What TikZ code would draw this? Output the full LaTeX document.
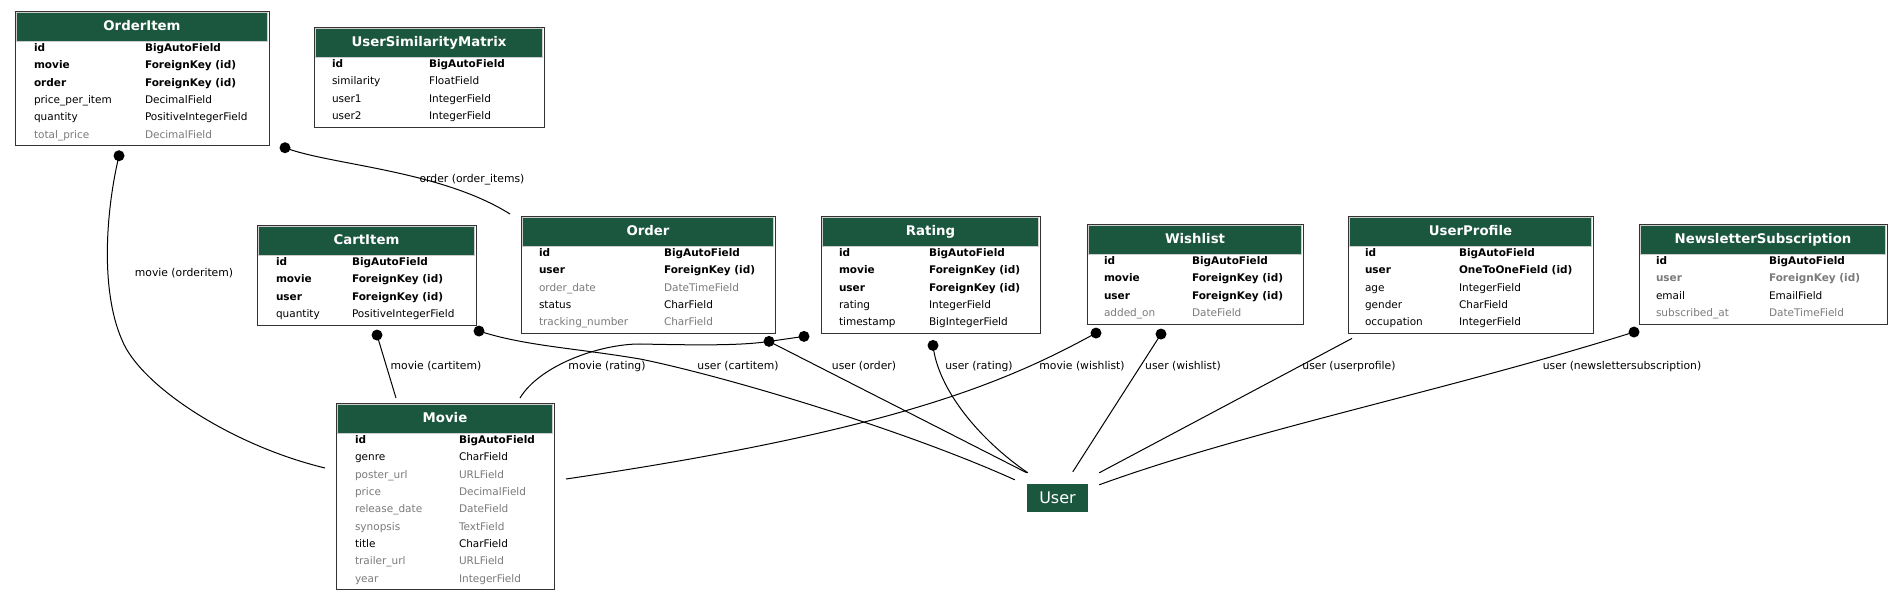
\documentclass[tikz,border=0pt]{standalone}
\usepackage{fontspec}
\setmainfont{DejaVu Sans}
\usetikzlibrary{calc}
\definecolor{hdrgreen}{HTML}{1B563F}
\definecolor{fgray}{HTML}{7B7B7B}
\newcommand\erfb{\bfseries}
\newcommand\erfn{}
\tikzset{
  tbox/.style={draw=black!80, line width=0.9pt, fill=white, inner sep=0pt, outer sep=0pt},
  hdr/.style={fill=hdrgreen, draw=black!20, line width=0.5pt, text=white, font=\fontsize{13.3}{15}\selectfont\bfseries, inner sep=0pt, outer sep=0pt, text height=9.5pt, text depth=2.5pt},
  fld/.style={font=\fontsize{10.5}{12}\selectfont, inner sep=0pt, outer sep=0pt},
  elabel/.style={font=\fontsize{10.8}{12}\selectfont, inner sep=0pt, anchor=base},
  edge/.style={draw=black, line width=1pt},
  userbox/.style={fill=hdrgreen, text=white, font=\fontsize{16}{18}\selectfont, minimum width=61pt, minimum height=28pt, inner sep=0pt},
}
\newcommand\ertable[9]{%
  \node[tbox, minimum width=#4, minimum height={48+(#8-1)*17.35}, anchor=north west] (#1) at (#2,#3) {};
  \node[hdr, minimum width={#4-3}, minimum height=28.5, anchor=north] (#1-h) at ($(#1.north)+(0,1.5)$) {#5};
  \foreach \xc/\xw/\xl/\xr [count=\xi] in {#9} {
    \node[fld, text=\xc, anchor=base west] (#1-a\xi) at ($(#1.north west)+({#6},{40.5+(\xi-1)*17.35})$) {\csname erf\xw\endcsname\xl};
    \node[fld, text=\xc, anchor=base west] (#1-b\xi) at ($(#1.north west)+({#7},{40.5+(\xi-1)*17.35})$) {\csname erf\xw\endcsname\xr};
  }%
}
\begin{document}
\begin{tikzpicture}[x=1pt,y=-1pt]
\fill[white] (0,0) rectangle (1903,601);
\useasboundingbox (0,0) rectangle (1903,601);

\ertable{OrderItem}{15}{11}{254}{OrderItem}{19}{130}{6}{black/b/id/BigAutoField, black/b/movie/ForeignKey (id), black/b/order/ForeignKey (id), black/n/price\_per\_item/DecimalField, black/n/quantity/PositiveIntegerField, fgray/n/total\_price/DecimalField}
\ertable{UserSimilarityMatrix}{314}{27}{230}{UserSimilarityMatrix}{18}{115}{4}{black/b/id/BigAutoField, black/n/similarity/FloatField, black/n/user1/IntegerField, black/n/user2/IntegerField}
\ertable{CartItem}{257}{225}{219}{CartItem}{19}{95}{4}{black/b/id/BigAutoField, black/b/movie/ForeignKey (id), black/b/user/ForeignKey (id), black/n/quantity/PositiveIntegerField}
\ertable{Order}{521}{216}{254}{Order}{18}{143}{5}{black/b/id/BigAutoField, black/b/user/ForeignKey (id), fgray/n/order\_date/DateTimeField, black/n/status/CharField, fgray/n/tracking\_number/CharField}
\ertable{Rating}{821}{216}{219}{Rating}{18}{108}{5}{black/b/id/BigAutoField, black/b/movie/ForeignKey (id), black/b/user/ForeignKey (id), black/n/rating/IntegerField, black/n/timestamp/BigIntegerField}
\ertable{Wishlist}{1087}{224}{216}{Wishlist}{17}{105}{4}{black/b/id/BigAutoField, black/b/movie/ForeignKey (id), black/b/user/ForeignKey (id), fgray/n/added\_on/DateField}
\ertable{UserProfile}{1348}{216}{245}{UserProfile}{17}{111}{5}{black/b/id/BigAutoField, black/b/user/OneToOneField (id), black/n/age/IntegerField, black/n/gender/CharField, black/n/occupation/IntegerField}
\ertable{NewsletterSubscription}{1639}{224}{248}{NewsletterSubscription}{17}{130}{4}{black/b/id/BigAutoField, fgray/b/user/ForeignKey (id), black/n/email/EmailField, fgray/n/subscribed\_at/DateTimeField}
\ertable{Movie}{336}{403}{218}{Movie}{19}{123}{9}{black/b/id/BigAutoField, black/n/genre/CharField, fgray/n/poster\_url/URLField, fgray/n/price/DecimalField, fgray/n/release\_date/DateField, fgray/n/synopsis/TextField, black/n/title/CharField, fgray/n/trailer\_url/URLField, fgray/n/year/IntegerField}

\node[userbox] (User) at (1057.5,498) {User};

% movie (orderitem)
\draw[edge] ($(OrderItem.south west)+(104,10)$) coordinate (t1) .. controls (106,210) and (100,290) .. (122,340) .. controls (140,385) and (230,445) .. ($(Movie.north west)+(-11,65)$);
% order (order_items)
\draw[edge] ($(OrderItem.south east)+(16,2)$) coordinate (t2) .. controls (330,165) and (440,170) .. ($(Order.north west)+(-11,-2)$);
% movie (cartitem)
\draw[edge] ($(CartItem.south west)+(120,10)$) coordinate (t3) -- ($(Movie.north west)+(60,-5)$);
% user (cartitem)
\draw[edge] ($(CartItem.south east)+(3,6)$) coordinate (t4) .. controls (525,346) and (575,348) .. (640,359) .. controls (720,375) and (900,428) .. ($(User.north west)+(-12,-4)$);
% user (order)
\draw[edge] ($(Order.south east)+(-6,8)$) coordinate (t5) -- ($(User.north west)+(0,-11)$);
% movie (rating)
\draw[edge] ($(Rating.south west)+(-17,3)$) coordinate (t6) -- (t5) .. controls (740,346) and (690,345) .. (640,344) .. controls (600,344) and (540,365) .. ($(Movie.north west)+(184,-5)$);
% user (rating)
\draw[edge] ($(Rating.south west)+(112,12)$) coordinate (t7) .. controls (938,390) and (980,440) .. ($(User.north west)+(1,-11)$);
% movie (wishlist)
\draw[edge] ($(Wishlist.south west)+(9,9)$) coordinate (t8) .. controls (1010,380) and (900,430) .. ($(Movie.north east)+(12,76)$);
% user (wishlist)
\draw[edge] ($(Wishlist.south west)+(74,10)$) coordinate (t9) -- ($(User.north west)+(46,-12)$);
% user (userprofile)
\draw[edge] ($(UserProfile.south west)+(4,5)$) -- ($(User.north east)+(11,-11)$);
% user (newslettersubscription)
\draw[edge] ($(NewsletterSubscription.south west)+(-5,8)$) coordinate (t11) .. controls (1450,390) and (1250,430) .. ($(User.north east)+(11,1)$);

\foreach \p in {t1,t2,t3,t4,t5,t6,t7,t8,t9,t11} \fill (\p) circle[radius=5.5];

\node[elabel] (l1) at (184,277) {movie (orderitem)};
\node[elabel] (l2) at (472,183) {order (order\_items)};
\node[elabel] (l3) at (436,370) {movie (cartitem)};
\node[elabel] (l4) at (607,370) {movie (rating)};
\node[elabel] (l5) at (738,370) {user (cartitem)};
\node[elabel] (l6) at (864,370) {user (order)};
\node[elabel] (l7) at (979,370) {user (rating)};
\node[elabel] (l8) at (1082,370) {movie (wishlist)};
\node[elabel] (l9) at (1183,370) {user (wishlist)};
\node[elabel] (l10) at (1349,370) {user (userprofile)};
\node[elabel] (l11) at (1622,370) {user (newslettersubscription)};
\end{tikzpicture}
\end{document}
